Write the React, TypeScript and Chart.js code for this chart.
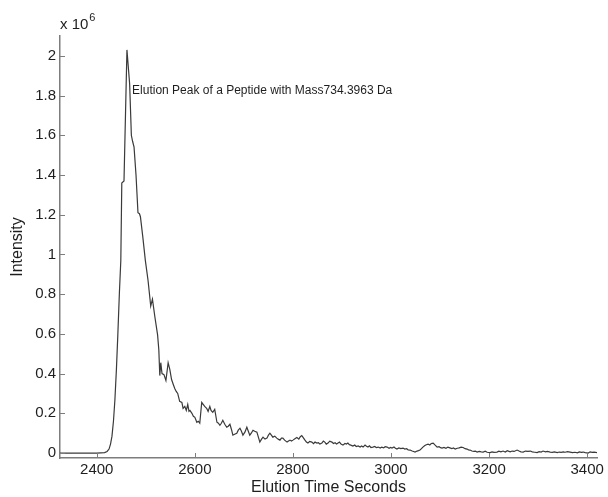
import React, { useEffect, useRef } from 'react';
import { Chart, registerables } from 'chart.js';

Chart.register(...registerables);

// Elution time (seconds)
const elutionTimes: number[] = [
  2325, 2400, 2416, 2421, 2425, 2428, 2431, 2434, 2437, 2440, 2443, 2446, 2449, 2451, 2455.5, 2461.5,
  2467, 2470.5, 2473, 2476, 2480, 2484, 2487, 2489, 2494, 2499, 2504.5, 2510, 2513.5, 2518.5, 2524, 2526.5,
  2528.5, 2530.5, 2533, 2537, 2541, 2545.5, 2549, 2552.5, 2556, 2559, 2562, 2565, 2569, 2573.5, 2576, 2579.5,
  2582.5, 2585.5, 2588, 2590, 2594, 2597, 2600, 2604, 2607, 2610, 2614, 2617, 2620, 2624, 2627, 2630.5,
  2633, 2636.5, 2640.5, 2645, 2648, 2651, 2654, 2657, 2661, 2665, 2668, 2671.5, 2674.5, 2677.5, 2681, 2685.5,
  2688.5, 2692, 2695, 2698, 2702, 2706, 2709, 2712, 2715, 2718.5, 2722, 2726.5, 2729.5, 2732.5, 2736, 2739,
  2743, 2747, 2750, 2753, 2756, 2759, 2763, 2767, 2770, 2773.5, 2776.5, 2779.5, 2783, 2788, 2791, 2794,
  2797, 2800, 2804, 2808, 2812, 2815, 2818, 2821, 2824.5, 2827.5, 2830.5, 2834, 2838.5, 2842, 2845, 2849,
  2852, 2855, 2859, 2862, 2865, 2868, 2871.5, 2875, 2879.5, 2882.5, 2886, 2889, 2892, 2895, 2898, 2902,
  2906, 2909, 2912, 2915, 2918, 2922, 2926, 2929, 2933, 2937, 2940, 2943, 2947, 2950, 2953, 2956,
  2959, 2963, 2967, 2970, 2974, 2978, 2981, 2985, 2988, 2992, 2996, 2999, 3002, 3006, 3009, 3012,
  3016, 3020, 3024.5, 3028, 3032, 3035, 3039, 3043, 3046, 3049, 3053, 3056, 3059, 3062, 3065, 3069,
  3072, 3075.5, 3079, 3082, 3086, 3089, 3094, 3098, 3101, 3104, 3108, 3112, 3116, 3120, 3124, 3127,
  3131, 3135, 3139, 3143, 3147, 3151, 3155, 3158, 3161, 3165, 3169, 3172, 3175.5, 3180, 3184, 3188,
  3192, 3196, 3202, 3206, 3210, 3216, 3220, 3224, 3228.5, 3233, 3237, 3243, 3247, 3251, 3257, 3261,
  3265, 3269.5, 3274, 3279, 3284, 3288, 3293, 3298, 3302, 3306, 3310, 3315, 3319, 3324.5, 3329, 3333,
  3339, 3343, 3347, 3351, 3355, 3360, 3365, 3370, 3375, 3380, 3384, 3388, 3392, 3396, 3402, 3406,
  3410, 3414, 3420,
];

// Intensity in units of 10^6
const intensityE6: number[] = [
  0, 0, 0.002, 0.008, 0.02, 0.045, 0.085, 0.16, 0.27, 0.42, 0.6, 0.8, 0.97, 1.36, 1.37, 2.03,
  1.86, 1.6, 1.57, 1.54, 1.4, 1.21, 1.205, 1.19, 1.085, 0.97, 0.87, 0.74, 0.775, 0.685, 0.595, 0.52,
  0.39, 0.455, 0.4, 0.395, 0.365, 0.455, 0.42, 0.37, 0.345, 0.325, 0.31, 0.3, 0.26, 0.255, 0.225, 0.235,
  0.215, 0.245, 0.21, 0.215, 0.2, 0.185, 0.18, 0.155, 0.16, 0.15, 0.255, 0.245, 0.235, 0.225, 0.21, 0.235,
  0.215, 0.205, 0.22, 0.155, 0.15, 0.14, 0.15, 0.165, 0.145, 0.13, 0.135, 0.145, 0.12, 0.09, 0.095, 0.1,
  0.115, 0.125, 0.11, 0.09, 0.105, 0.13, 0.11, 0.09, 0.1, 0.115, 0.11, 0.105, 0.08, 0.055, 0.07, 0.08,
  0.07, 0.075, 0.09, 0.1, 0.09, 0.08, 0.085, 0.075, 0.07, 0.065, 0.075, 0.075, 0.065, 0.055, 0.06, 0.065,
  0.06, 0.065, 0.072, 0.078, 0.07, 0.082, 0.088, 0.078, 0.065, 0.055, 0.05, 0.058, 0.055, 0.047, 0.055, 0.05,
  0.052, 0.045, 0.05, 0.06, 0.055, 0.045, 0.05, 0.06, 0.055, 0.048, 0.052, 0.045, 0.05, 0.055, 0.045, 0.04,
  0.048, 0.045, 0.05, 0.042, 0.04, 0.035, 0.04, 0.033, 0.036, 0.03, 0.035, 0.03, 0.04, 0.034, 0.03, 0.036,
  0.028, 0.03, 0.033, 0.027, 0.03, 0.025, 0.03, 0.026, 0.032, 0.03, 0.024, 0.028, 0.025, 0.03, 0.024, 0.02,
  0.026, 0.022, 0.025, 0.02, 0.022, 0.016, 0.015, 0.01, 0.008, 0.005, 0.01, 0.012, 0.015, 0.022, 0.03, 0.038,
  0.042, 0.045, 0.04, 0.048, 0.05, 0.042, 0.03, 0.032, 0.027, 0.025, 0.028, 0.024, 0.03, 0.026, 0.022, 0.026,
  0.02, 0.024, 0.026, 0.03, 0.028, 0.022, 0.02, 0.016, 0.015, 0.01, 0.008, 0.01, 0.005, 0.008, 0.006, 0.005,
  0.009, 0.004, 0.002, 0.006, 0.003, 0.005, 0.009, 0.006, 0.01, 0.005, 0.012, 0.006, 0.01, 0.008, 0.015, 0.01,
  0.006, 0.005, 0.01, 0.008, 0.01, 0.006, 0.004, 0.002, 0.007, 0.005, 0.01, 0.006, 0.008, 0.005, 0.003, 0.006,
  0.002, 0.005, 0.003, 0.006, 0.004, 0.007, 0.005, 0.002, 0.004, 0.001, 0.006, 0.003, 0.005, 0.002, 0, 0.006,
  0.003, 0.005, 0.002,
];

const xTickValues: number[] = [2400, 2600, 2800, 3000, 3200, 3400];
const yTickValues: number[] = [0, 0.2, 0.4, 0.6, 0.8, 1, 1.2, 1.4, 1.6, 1.8, 2];

const xAxisTitle = 'Elution Time Seconds';
const yAxisTitle = 'Intensity';
const annotationText = 'Elution Peak of a Peptide with Mass734.3963 Da';
const exponentBase = 'x 10';
const exponentPower = '6';

export default function App() {
  const canvasRef = useRef<HTMLCanvasElement>(null);

  useEffect(() => {
    document.body.style.margin = '0';
    const canvas = canvasRef.current;
    if (!canvas) return;

    const FONT = '"Liberation Sans", Arial, Helvetica, sans-serif';
    const AXIS = '#7d7d7d';
    const TEXT = '#1e1e1e';

    const overlay = {
      id: 'overlay',
      afterDraw(chart: any) {
        const { ctx, chartArea: ca, scales } = chart;
        const xs = scales.x;
        const ys = scales.y;
        ctx.save();
        // inward tick marks
        ctx.strokeStyle = AXIS;
        ctx.lineWidth = 1;
        ctx.beginPath();
        xs.ticks.forEach((t: any) => {
          const px = Math.round(xs.getPixelForValue(t.value)) + 0.5;
          ctx.moveTo(px, ca.bottom);
          ctx.lineTo(px, ca.bottom - 5);
        });
        ys.ticks.forEach((t: any) => {
          const py = Math.round(ys.getPixelForValue(t.value)) + 0.5;
          ctx.moveTo(ca.left, py);
          ctx.lineTo(ca.left + 5, py);
        });
        ctx.stroke();

        // annotation text
        ctx.fillStyle = TEXT;
        ctx.textAlign = 'left';
        ctx.textBaseline = 'middle';
        ctx.font = `12px ${FONT}`;
        ctx.fillText(annotationText, xs.getPixelForValue(2472), ys.getPixelForValue(1.825));

        // exponent label
        ctx.font = `15px ${FONT}`;
        ctx.fillText(exponentBase, ca.left, 25);
        const w = ctx.measureText(exponentBase).width;
        ctx.font = `11px ${FONT}`;
        ctx.fillText(exponentPower, ca.left + w + 1, 18);
        ctx.restore();
      },
    };

    const chart = new Chart(canvas, {
      type: 'line',
      data: {
        datasets: [
          {
            data: elutionTimes.map((t, i) => ({ x: t, y: intensityE6[i] })),
            borderColor: '#3a3a3a',
            borderWidth: 1.2,
            pointRadius: 0,
            fill: false,
            tension: 0,
          },
        ],
      },
      options: {
        responsive: false,
        animation: false,
        events: [],
        layout: { padding: { top: 36, right: 11, left: 0, bottom: 0 } },
        plugins: {
          legend: { display: false },
          tooltip: { enabled: false },
          title: { display: false },
        },
        scales: {
          x: {
            type: 'linear',
            min: 2325,
            max: 3420,
            afterBuildTicks: (s: any) => {
              s.ticks = xTickValues.map((v) => ({ value: v }));
            },
            afterFit: (s: any) => {
              s.height = 39;
            },
            grid: { display: false, drawTicks: false },
            border: { display: true, color: AXIS, width: 1.5 },
            ticks: {
              font: { family: FONT, size: 15 },
              color: TEXT,
              padding: 3,
              maxRotation: 0,
              autoSkip: false,
              callback: (v: any) => String(v),
            },
            title: {
              display: true,
              text: xAxisTitle,
              font: { family: FONT, size: 16, lineHeight: 1.2 },
              color: TEXT,
              padding: { top: 0, bottom: 0 },
            },
          },
          y: {
            type: 'linear',
            min: -0.025,
            max: 2.1,
            afterBuildTicks: (s: any) => {
              s.ticks = yTickValues.map((v) => ({ value: v }));
            },
            afterFit: (s: any) => {
              s.width = 60;
            },
            grid: { display: false, drawTicks: false },
            border: { display: true, color: AXIS, width: 1.5 },
            ticks: {
              font: { family: FONT, size: 15 },
              color: TEXT,
              padding: 4,
              autoSkip: false,
              callback: (v: any) => String(parseFloat(Number(v).toFixed(1))),
            },
            title: {
              display: true,
              text: yAxisTitle,
              font: { family: FONT, size: 16, lineHeight: 1.2 },
              color: TEXT,
              padding: { top: 8, bottom: 0 },
            },
          },
        },
      },
      plugins: [overlay],
    });

    return () => chart.destroy();
  }, []);

  return (
    <div style={{ position: 'absolute', left: 0, top: 0, width: 608, height: 497, background: '#fff' }}>
      <canvas ref={canvasRef} width={608} height={497} style={{ display: 'block' }} />
    </div>
  );
}
